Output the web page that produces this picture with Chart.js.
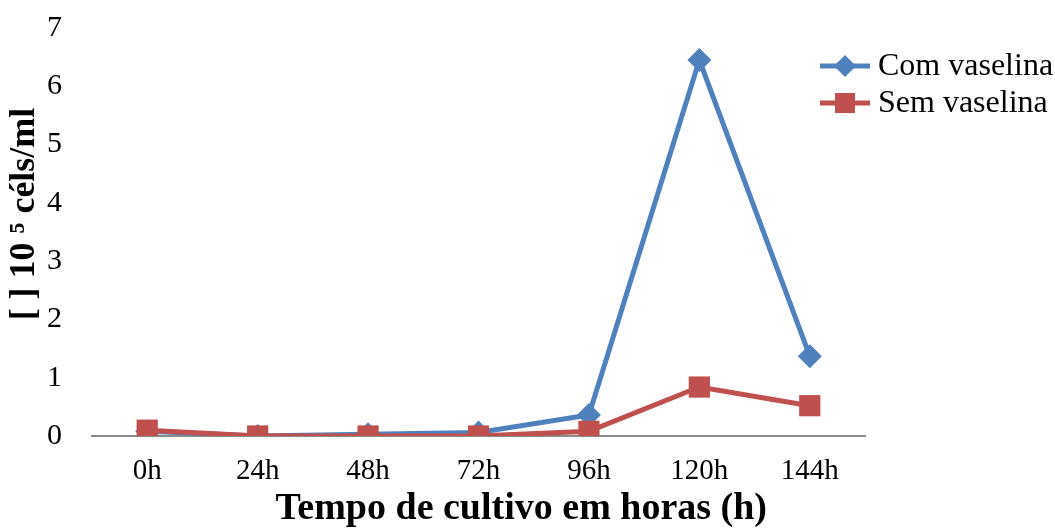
<!DOCTYPE html>
<html>
<head>
<meta charset="utf-8">
<script src="https://cdn.jsdelivr.net/npm/chart.js@4"></script>
<style>
  html, body { margin: 0; padding: 0; background: #fff; }
  #wrap { width: 1055px; height: 528px; }
</style>
</head>
<body>
<div id="wrap"><canvas id="chart" width="1055" height="528"></canvas></div>
<script>
const categories = ['0h', '24h', '48h', '72h', '96h', '120h', '144h'];
const comVaselina = [0.08, 0.0, 0.03, 0.06, 0.36, 6.45, 1.37];
const semVaselina = [0.10, 0.0, 0.0, 0.0, 0.08, 0.84, 0.52];
const seriesNames = ['Com vaselina', 'Sem vaselina'];
const yTicks = { min: 0, max: 7, step: 1 };

const blue = '#4F81BD';
const red = '#C0504D';
const font = 'Liberation Serif, Times New Roman, serif';
const nb = '\u00a0';

// legend sits over the top right corner of the plot, so it is drawn by hand
const overlayLegend = {
    id: 'overlayLegend',
    afterDraw(chart) {
        const c = chart.ctx;
        const x0 = 820, x1 = 870, tx = 878;
        const rows = [66, 103];
        c.save();
        chart.data.datasets.forEach((ds, i) => {
            const y = rows[i];
            c.strokeStyle = ds.borderColor;
            c.fillStyle = ds.borderColor;
            c.lineWidth = 5;
            c.beginPath();
            c.moveTo(x0, y);
            c.lineTo(x1, y);
            c.stroke();
            const mx = (x0 + x1) / 2;
            if (ds.pointStyle === 'rectRot') {
                c.beginPath();
                c.moveTo(mx, y - 11); c.lineTo(mx + 11, y); c.lineTo(mx, y + 11); c.lineTo(mx - 11, y);
                c.closePath();
                c.fill();
            } else {
                c.fillRect(mx - 10, y - 10, 20, 20);
            }
            c.fillStyle = '#000';
            c.font = '32px ' + font;
            c.textAlign = 'left';
            c.textBaseline = 'middle';
            c.fillText(ds.label, tx, y + 1);
        });
        c.restore();
    }
};

const ctx = document.getElementById('chart').getContext('2d');
new Chart(ctx, {
    type: 'line',
    data: {
        labels: categories,
        datasets: [{
            label: seriesNames[0],
            data: comVaselina,
            borderColor: blue,
            backgroundColor: blue,
            borderWidth: 5,
            pointStyle: 'rectRot',
            pointRadius: 12,
            pointHoverRadius: 12,
            pointBorderWidth: 0,
            tension: 0,
            order: 1
        }, {
            label: seriesNames[1],
            data: semVaselina,
            borderColor: red,
            backgroundColor: red,
            borderWidth: 5,
            pointStyle: 'rect',
            pointRadius: 15,
            pointHoverRadius: 15,
            pointBorderWidth: 0,
            tension: 0,
            order: 0
        }]
    },
    options: {
        responsive: false,
        animation: false,
        layout: { padding: { top: 28, right: 190, left: 0, bottom: 0 } },
        plugins: {
            tooltip: { enabled: false },
            legend: { display: false }
        },
        scales: {
            x: {
                offset: true,
                grid: { display: false },
                border: { display: true, color: '#8c8c8c', width: 2 },
                ticks: { color: '#000', font: { family: font, size: 29 }, padding: 10 },
                title: {
                    display: true,
                    text: nb.repeat(9) + 'Tempo de cultivo em horas (h)',
                    color: '#000',
                    font: { family: font, size: 38, weight: 'bold', lineHeight: 1 },
                    padding: { top: 0, bottom: 0 }
                },
                afterFit: scale => { scale.height = 92; }
            },
            y: {
                min: yTicks.min,
                max: yTicks.max,
                grid: { display: false, tickLength: 30 },
                border: { display: false },
                ticks: { stepSize: yTicks.step, color: '#000', font: { family: font, size: 30 }, padding: 0 },
                title: {
                    display: true,
                    text: nb.repeat(4) + '[ ] 10 ⁵ céls/ml',
                    color: '#000',
                    font: { family: font, size: 36, weight: 'bold', lineHeight: 1.2 },
                    padding: { top: 3, bottom: 0 }
                },
                afterFit: scale => { scale.width = 92; }
            }
        }
    },
    plugins: [overlayLegend]
});
</script>
</body>
</html>
